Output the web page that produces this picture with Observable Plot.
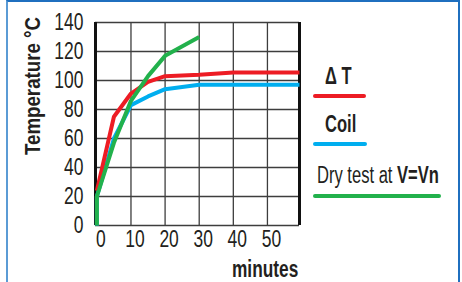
<!DOCTYPE html>
<html><head><meta charset="utf-8">
<script src="https://cdn.jsdelivr.net/npm/d3@7"></script>
<script src="https://cdn.jsdelivr.net/npm/@observablehq/plot@0.6"></script>
<style>
body{margin:0;background:#fff;}
#wrap{position:relative;width:462px;height:282px;overflow:hidden;font-family:"Liberation Sans",Arial,sans-serif;color:#231f20;}
#border{position:absolute;left:6px;top:0;width:454px;height:300px;border-left:2px solid #5b9bd5;border-top:2px solid #1f6fbf;border-right:2px solid #1f6fbf;box-sizing:border-box;}
#chart{position:absolute;left:0;top:0;}
.t{position:absolute;white-space:nowrap;font-size:23px;line-height:23px;transform-origin:0 50%;transform:scaleX(0.72);}
.b{font-weight:bold;}
.sw{position:absolute;height:4px;border-radius:2px;}
#ylab{position:absolute;left:-67px;top:73px;width:200px;height:26px;line-height:26px;text-align:center;font-size:22px;font-weight:bold;transform:rotate(-90deg) scaleX(0.85);white-space:nowrap;}
</style>
</head><body>
<div id="wrap">
  <div id="border"></div>
  <div id="chart"></div>
  <div id="ylab">Temperature °C</div>
  <div class="t b" style="left:232px;top:257px;font-size:24px;line-height:24px;">minutes</div>
  <div class="t b" id="lg0" style="left:325px;top:65px;"></div>
  <div class="sw" id="sw0" style="left:313px;top:94px;width:53px;"></div>
  <div class="t b" id="lg1" style="left:325px;top:113px;"></div>
  <div class="sw" id="sw1" style="left:313px;top:142px;width:54px;"></div>
  <div class="t" id="lg2" style="left:317px;top:164px;"></div>
  <div class="sw" id="sw2" style="left:313px;top:194px;width:128px;"></div>
</div>
<script>
// Series names and colours
const seriesNames = ["Δ T", "Coil", "Dry test at V=Vn"];
const seriesColors = ["#ed1c24", "#00aeef", "#22b14c"];

// ΔT (red)
const dtMinutes = [0, 5, 10, 15, 20, 30, 40, 59.4];
const dtValues  = [24, 75, 91, 99, 103, 104, 105.5, 105.5];
// Coil (blue)
const coilMinutes = [0, 0, 5, 10, 15, 20, 30, 59.4];
const coilValues  = [0, 20, 60, 83, 89, 94, 97, 97];
// Dry test at V=Vn (green)
const dryMinutes = [0, 0, 5, 10, 15, 20, 30];
const dryValues  = [0, 20, 57, 86, 103, 117, 130];

// Axis ticks
const xTicks = [0, 10, 20, 30, 40, 50];
const yTicks = [0, 20, 40, 60, 80, 100, 120, 140];
const xDomain = [-0.4, 59.4];
const yDomain = [0, 140];

const toRows = (xs, ys, s) => xs.map((x, i) => ({minute: x, temp: ys[i], series: s}));
const dt = toRows(dtMinutes, dtValues, seriesNames[0]);
const coil = toRows(coilMinutes, coilValues, seriesNames[1]);
const dry = toRows(dryMinutes, dryValues, seriesNames[2]);

const gridColor = "#3d3d3d";

const chart = Plot.plot({
  width: 462, height: 282,
  marginLeft: 95, marginRight: 163, marginTop: 22, marginBottom: 57,
  style: {fontFamily: "'Liberation Sans',Arial,sans-serif", fontSize: "23px", color: "#231f20", background: "transparent"},
  x: {domain: xDomain},
  y: {domain: yDomain},
  marks: [
    Plot.ruleY(yTicks, {stroke: gridColor, strokeWidth: 1.3}),
    Plot.ruleX(xTicks.filter(d => d > 0), {stroke: gridColor, strokeWidth: 1.3}),
    Plot.ruleX(xDomain, {stroke: "#111", strokeWidth: 3}),
    Plot.axisY(yTicks, {tickSize: 0, tickPadding: 12, fontSize: 23, label: null}),
    Plot.axisX(xTicks, {tickSize: 0, tickPadding: 5, dx: 4, fontSize: 23, label: null}),
    Plot.line(coil, {x: "minute", y: "temp", stroke: seriesColors[1], strokeWidth: 4, strokeLinejoin: "miter", strokeLinecap: "butt"}),
    Plot.line(dt, {x: "minute", y: "temp", stroke: seriesColors[0], strokeWidth: 4, strokeLinejoin: "miter", strokeLinecap: "butt"}),
    Plot.line(dry, {x: "minute", y: "temp", stroke: seriesColors[2], strokeWidth: 4, strokeLinejoin: "miter", strokeLinecap: "butt"})
  ]
});
// Condense tick labels horizontally around their anchor points
chart.querySelectorAll('g[aria-label$="tick label"] text').forEach(t => {
  const prev = t.getAttribute("transform") || "";
  t.setAttribute("transform", `${prev} scale(0.76,1)`);
});
document.getElementById("chart").appendChild(chart);

// Legend from series names/colours
document.getElementById("lg0").textContent = seriesNames[0];
document.getElementById("lg1").textContent = seriesNames[1];
const parts = seriesNames[2].split("at ");
document.getElementById("lg2").innerHTML = parts[0] + "at <b>" + parts[1] + "</b>";
seriesColors.forEach((c, i) => document.getElementById("sw" + i).style.background = c);
</script>
</body></html>
